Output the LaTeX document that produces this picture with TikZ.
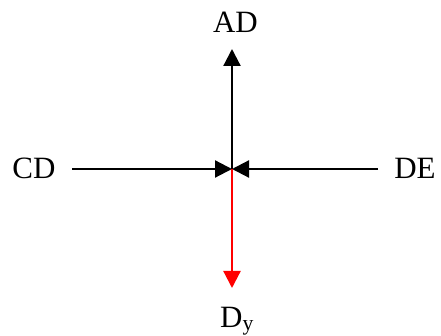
\documentclass[tikz,border=0pt]{standalone}
\usepackage{fontspec}
\setmainfont{Liberation Serif}
\usetikzlibrary{arrows.meta}
\begin{document}
\begin{tikzpicture}[x=1pt,y=-1pt,
  lbl/.style={inner sep=0pt,anchor=base,font=\fontsize{31}{34}\selectfont},
  force/.style={line width=2.2pt,-{Triangle[length=17pt,width=17pt]}}]
\useasboundingbox (0,0) rectangle (441,336);
\coordinate (c) at (232,169);
\coordinate (top) at (232,49);
\coordinate (bot) at (232,288);
\coordinate (l) at (72,169);
\coordinate (r) at (378,169);
\node[lbl] (ad) at (235.5,33) {AD};
\node[lbl] (cd) at (34,179) {CD};
\node[lbl] (de) at (415,179) {DE};
\node[lbl] (dy) at (237,327) {D\textsubscript{y}};
\draw[force] (c) -- (top);
\draw[force] (l) -- (c);
\draw[force] (r) -- (c);
\draw[force,red] (c) -- (bot);
\end{tikzpicture}
\end{document}
